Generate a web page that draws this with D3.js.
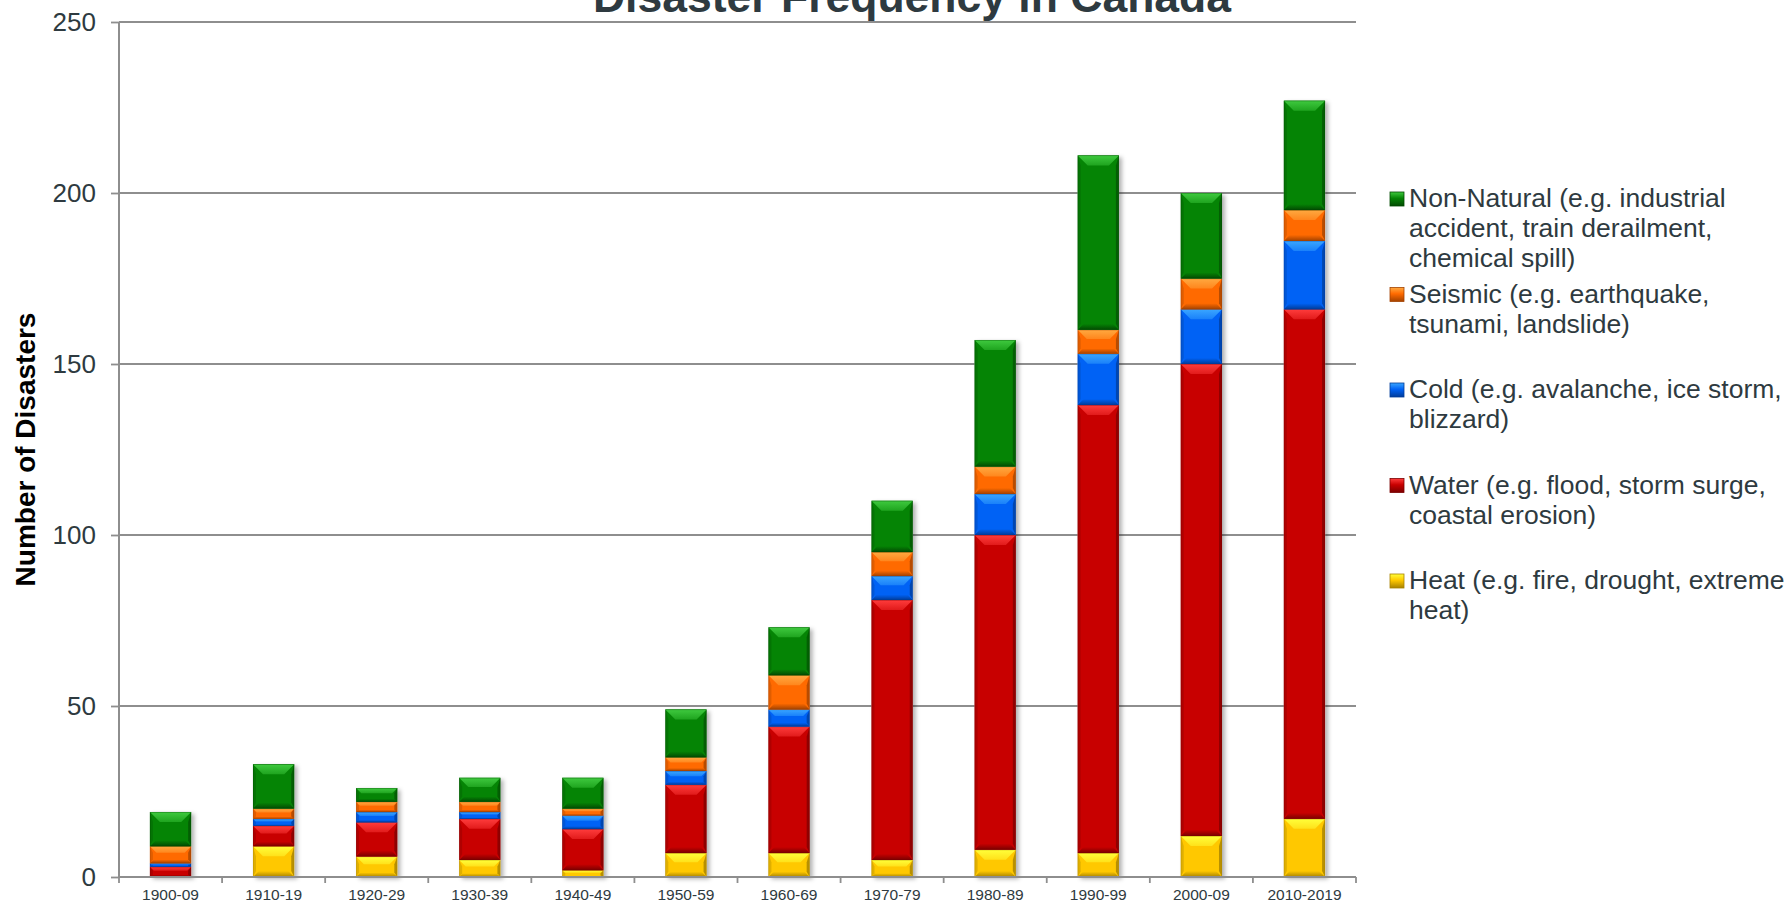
<!DOCTYPE html>
<html>
<head>
<meta charset="utf-8">
<script src="https://cdn.jsdelivr.net/npm/d3@7"></script>
<style>
  html, body { margin: 0; padding: 0; background: #ffffff; }
  svg { display: block; font-family: "Liberation Sans", Arial, sans-serif; }
</style>
</head>
<body>
<script>
// ---------- DATA ----------
const categories = ["1900-09","1910-19","1920-29","1930-39","1940-49","1950-59","1960-69","1970-79","1980-89","1990-99","2000-09","2010-2019"];
const heat       = [0, 9, 6, 5, 2, 7, 7, 5, 8, 7, 12, 17];
const water      = [3, 6, 10, 12, 12, 20, 37, 76, 92, 131, 138, 149];
const cold       = [1, 2, 3, 2, 4, 4, 5, 7, 12, 15, 16, 20];
const seismic    = [5, 3, 3, 3, 2, 4, 10, 7, 8, 7, 9, 9];
const nonNatural = [10, 13, 4, 7, 9, 14, 14, 15, 37, 51, 25, 32];
const yTicks = [0, 50, 100, 150, 200, 250];

const seriesNames = ["Heat", "Water", "Cold", "Seismic", "Non-Natural"];
const seriesValues = [heat, water, cold, seismic, nonNatural];
const legendLines = {
  "Non-Natural": ["Non-Natural (e.g. industrial", "accident, train derailment,", "chemical spill)"],
  "Seismic": ["Seismic (e.g. earthquake,", "tsunami, landslide)"],
  "Cold": ["Cold (e.g. avalanche, ice storm,", "blizzard)"],
  "Water": ["Water (e.g. flood, storm surge,", "coastal erosion)"],
  "Heat": ["Heat (e.g. fire, drought, extreme", "heat)"]
};
const legendOrder = ["Non-Natural", "Seismic", "Cold", "Water", "Heat"];

// ---------- STYLE ----------
const palette = {
  "Heat":        { base: "#ffc800", light: "#ffff3a", dark: "#a88200" },
  "Water":       { base: "#c80000", light: "#ff3c3c", dark: "#7a0000" },
  "Cold":        { base: "#0062f5", light: "#3aa6ff", dark: "#003c9a" },
  "Seismic":     { base: "#ff6a00", light: "#ffa940", dark: "#a34200" },
  "Non-Natural": { base: "#058405", light: "#3fca3f", dark: "#024a02" }
};

const W = 1791, H = 904;
const plot = { left: 119, right: 1356, top: 22, bottom: 877 };
const gridColor = "#8e8e8e";
const textColor = "#2e3a40";

const svg = d3.select("body").append("svg").attr("width", W).attr("height", H);
const defs = svg.append("defs");

// drop shadow
const f = defs.append("filter").attr("id", "shadow").attr("x", "-20%").attr("y", "-5%").attr("width", "150%").attr("height", "115%");
f.append("feDropShadow").attr("dx", 3).attr("dy", 2).attr("stdDeviation", 2).attr("flood-color", "#000").attr("flood-opacity", 0.3);

seriesNames.forEach((s, i) => {
  const c = palette[s];
  const g = defs.append("linearGradient").attr("id", "top" + i).attr("x1", 0).attr("y1", 0).attr("x2", 0).attr("y2", 1);
  g.append("stop").attr("offset", "0%").attr("stop-color", c.light);
  g.append("stop").attr("offset", "100%").attr("stop-color", d3.interpolateRgb(c.light, c.base)(0.55));
  const b = defs.append("linearGradient").attr("id", "bot" + i).attr("x1", 0).attr("y1", 0).attr("x2", 0).attr("y2", 1);
  b.append("stop").attr("offset", "0%").attr("stop-color", c.base);
  b.append("stop").attr("offset", "100%").attr("stop-color", c.dark);
  const lg = defs.append("linearGradient").attr("id", "leg" + i).attr("x1", 0).attr("y1", 0).attr("x2", 0).attr("y2", 1);
  lg.append("stop").attr("offset", "0%").attr("stop-color", c.light);
  lg.append("stop").attr("offset", "45%").attr("stop-color", c.base);
  lg.append("stop").attr("offset", "100%").attr("stop-color", c.dark);
});

// ---------- SCALES ----------
const x = d3.scaleBand().domain(categories).range([plot.left, plot.right]).paddingInner(0.6).paddingOuter(0.3);
const y = d3.scaleLinear().domain([0, 250]).range([plot.bottom, plot.top]);

// ---------- TITLE ----------
svg.append("text")
  .attr("x", 912).attr("y", 12)
  .attr("text-anchor", "middle")
  .attr("font-size", 44.5).attr("font-weight", "bold")
  .attr("fill", textColor)
  .text("Disaster Frequency in Canada");

// ---------- GRID ----------
svg.append("g").selectAll("line").data(yTicks.filter(t => t > 0)).join("line")
  .attr("x1", plot.left).attr("x2", plot.right)
  .attr("y1", d => y(d)).attr("y2", d => y(d))
  .attr("stroke", gridColor).attr("stroke-width", 1.8);

// ---------- Y AXIS ----------
const yAxis = svg.append("g").attr("transform", `translate(${plot.left},0)`)
  .call(d3.axisLeft(y).tickValues(yTicks).tickSize(8).tickPadding(15).tickFormat(d3.format("d")));
yAxis.select(".domain").attr("stroke", gridColor).attr("stroke-width", 2).attr("d", `M0,${plot.top}V${plot.bottom}`);
yAxis.selectAll(".tick line").attr("stroke", gridColor).attr("stroke-width", 1.8);
yAxis.selectAll(".tick text").attr("font-size", 26).attr("fill", textColor)
  .attr("font-family", "'Liberation Sans', Arial, sans-serif");

svg.append("text")
  .attr("transform", `translate(35,${(plot.top + plot.bottom) / 2}) rotate(-90)`)
  .attr("text-anchor", "middle")
  .attr("font-size", 28).attr("font-weight", "bold").attr("fill", "#000")
  .text("Number of Disasters");

// ---------- BARS ----------
const stackData = categories.map((c, i) => {
  const o = { cat: c };
  seriesNames.forEach((s, k) => { o[s] = seriesValues[k][i]; });
  return o;
});
const stack = d3.stack().keys(seriesNames)(stackData);

const bw = x.bandwidth();
const barsG = svg.append("g");
barsG.append("g").selectAll("rect").data(stackData).join("rect")
  .attr("x", d => x(d.cat))
  .attr("width", bw)
  .attr("y", d => y(d3.sum(seriesNames, s => d[s])))
  .attr("height", d => y(0) - y(d3.sum(seriesNames, s => d[s])))
  .attr("fill", "#fff")
  .attr("filter", "url(#shadow)");

stack.forEach((layer, k) => {
  const c = palette[seriesNames[k]];
  const g = barsG.append("g");
  layer.forEach((d, i) => {
    const x0 = x(categories[i]);
    const yt = y(d[1]), yb = y(d[0]);
    const h = yb - yt;
    if (h <= 0.1) return;
    const seg = g.append("g");
    seg.append("rect").attr("x", x0).attr("y", yt).attr("width", bw).attr("height", h).attr("fill", c.base);
    const dt = Math.min(10, h * 0.38);
    const db = Math.min(6, h * 0.22);
    const ds = Math.min(3, bw * 0.08);
    seg.append("polygon")
      .attr("points", [[x0, yb], [x0 + bw, yb], [x0 + bw - db, yb - db], [x0 + db, yb - db]].map(p => p.join(",")).join(" "))
      .attr("fill", `url(#bot${k})`);
    seg.append("polygon")
      .attr("points", [[x0, yt], [x0 + ds, yt + dt], [x0 + ds, yb - db], [x0, yb]].map(p => p.join(",")).join(" "))
      .attr("fill", "#000").attr("opacity", 0.12);
    seg.append("polygon")
      .attr("points", [[x0 + bw, yt], [x0 + bw - ds, yt + dt], [x0 + bw - ds, yb - db], [x0 + bw, yb]].map(p => p.join(",")).join(" "))
      .attr("fill", "#000").attr("opacity", 0.28);
    seg.append("polygon")
      .attr("points", [[x0, yt], [x0 + bw, yt], [x0 + bw - dt, yt + dt], [x0 + dt, yt + dt]].map(p => p.join(",")).join(" "))
      .attr("fill", `url(#top${k})`);
    seg.append("rect").attr("x", x0 + 0.3).attr("y", yt + 0.3).attr("width", bw - 0.6).attr("height", Math.max(0, h - 0.6))
      .attr("fill", "none").attr("stroke", c.dark).attr("stroke-opacity", 0.45).attr("stroke-width", 0.8);
  });
});

// ---------- X AXIS ----------
const step = x.step();
const boundaries = categories.map(c => x(c) - step * x.paddingInner() / 2).concat([x(categories[categories.length - 1]) + bw + step * x.paddingInner() / 2]);
svg.append("line")
  .attr("x1", plot.left).attr("x2", plot.right)
  .attr("y1", y(0)).attr("y2", y(0))
  .attr("stroke", gridColor).attr("stroke-width", 2);
svg.append("g").selectAll("line").data(boundaries).join("line")
  .attr("x1", d => d).attr("x2", d => d)
  .attr("y1", y(0)).attr("y2", y(0) + 6)
  .attr("stroke", gridColor).attr("stroke-width", 1.8);
svg.append("g").selectAll("text").data(categories).join("text")
  .attr("x", d => x(d) + bw / 2).attr("y", 900)
  .attr("text-anchor", "middle")
  .attr("font-size", 15.5).attr("fill", textColor)
  .text(d => d);

// ---------- LEGEND ----------
const legend = svg.append("g");
const legBase = 207, legStep = 95.5, lineH = 30.2;
legendOrder.forEach((s, i) => {
  const k = seriesNames.indexOf(s);
  const by = legBase + i * legStep;
  const c = palette[s];
  legend.append("rect").attr("x", 1390).attr("y", by - 15).attr("width", 14).attr("height", 14)
    .attr("fill", `url(#leg${k})`).attr("stroke", c.dark).attr("stroke-width", 0.8);
  legend.append("text")
    .attr("x", 1409).attr("y", by)
    .attr("font-size", 26.5).attr("fill", textColor)
    .selectAll("tspan").data(legendLines[s]).join("tspan")
    .attr("x", 1409).attr("dy", (d, j) => j === 0 ? 0 : lineH)
    .text(d => d);
});
</script>
</body>
</html>
